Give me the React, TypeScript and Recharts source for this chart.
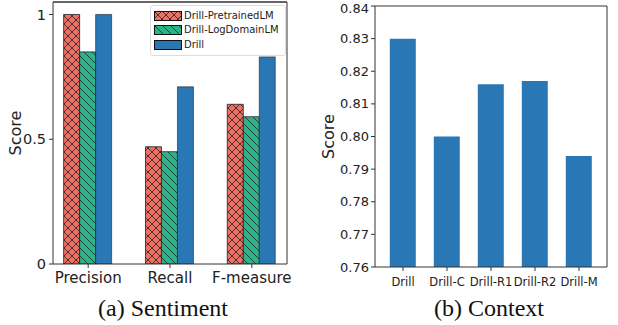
import React from 'react';
import { BarChart, Bar, XAxis, YAxis, Label, Legend, CartesianGrid, ReferenceLine } from 'recharts';

const categories = ['Precision', 'Recall', 'F-measure'];
const pretrainedLM = [1.0, 0.47, 0.64];
const logDomainLM = [0.85, 0.45, 0.59];
const drillScores = [1.0, 0.71, 0.83];
const sentimentTicks = [0, 0.5, 1];
const sentimentMax = 1.05;

const contextLabels = ['Drill', 'Drill-C', 'Drill-R1', 'Drill-R2', 'Drill-M'];
const contextScores = [0.83, 0.8, 0.816, 0.817, 0.794];
const contextTicks = [0.76, 0.77, 0.78, 0.79, 0.8, 0.81, 0.82, 0.83, 0.84];

const seriesNames = ['Drill-PretrainedLM', 'Drill-LogDomainLM', 'Drill'];

const RED = '#EE6F63';
const GREEN = '#2DB38A';
const BLUE = '#2A77B6';
const AXIS = '#333';
const FONT = '"DejaVu Sans", sans-serif';

const sentimentData = categories.map((c, i) => ({
  x: i,
  name: c,
  pre: pretrainedLM[i],
  log: logDomainLM[i],
  drill: drillScores[i],
}));

const contextData = contextLabels.map((c, i) => ({ name: c, score: contextScores[i] }));

const legendFills = ['url(#hatchCross)', 'url(#hatchDiag)', BLUE];

const LegendBox = () => (
  <div
    style={{
      border: '1px solid #ddd',
      borderRadius: 3,
      background: 'rgba(255,255,255,0.85)',
      padding: '3px 6px 3px 3px',
      fontFamily: FONT,
      fontSize: 10,
      color: '#222',
      lineHeight: '14.3px',
      whiteSpace: 'nowrap',
    }}
  >
    {seriesNames.map((n, i) => (
      <div key={n} style={{ display: 'flex', alignItems: 'center' }}>
        <svg width={28} height={10} style={{ marginRight: 2 }}>
          <rect x={0.5} y={0.5} width={27} height={9} fill={legendFills[i]} stroke="#111" strokeWidth={1} />
        </svg>
        <span>{n}</span>
      </div>
    ))}
  </div>
);

const frameH = ({ offset }: any) => [offset.top];
const frameV = ({ offset }: any) => [offset.left + offset.width];

export default function App() {
  return (
    <div style={{ position: 'absolute', left: 0, top: 0, width: 618, height: 325, background: '#fff' }}>
      <svg width={0} height={0} style={{ position: 'absolute' }}>
        <defs>
          <pattern id="hatchCross" patternUnits="userSpaceOnUse" width={8} height={8}>
            <rect width={8} height={8} fill={RED} />
            <path d="M0,0 L8,8 M0,8 L8,0 M-1,7 L1,9 M7,-1 L9,1 M-1,1 L1,-1 M7,9 L9,7" stroke="#222" strokeWidth={0.8} />
          </pattern>
          <pattern id="hatchDiag" patternUnits="userSpaceOnUse" width={8} height={8}>
            <rect width={8} height={8} fill={GREEN} />
            <path d="M0,0 L8,8 M-1,7 L1,9 M7,-1 L9,1" stroke="#222" strokeWidth={0.8} />
          </pattern>
        </defs>
      </svg>

      <div style={{ position: 'absolute', left: 0, top: 0 }}>
        <BarChart
          width={310}
          height={300}
          data={sentimentData}
          margin={{ top: 2, right: 23, bottom: 0, left: 0 }}
          barCategoryGap="20%"
          barGap={0}
        >
          <CartesianGrid
            stroke={AXIS}
            strokeOpacity={1}
            horizontalCoordinatesGenerator={frameH}
            verticalCoordinatesGenerator={frameV}
          />
          <XAxis
            dataKey="x"
            type="number"
            domain={[-0.43, 2.43]}
            ticks={[0, 1, 2]}
            tickFormatter={(v: number) => categories[v]}
            height={36}
            tickSize={4}
            tickMargin={4}
            stroke={AXIS}
            tick={{ fill: '#222', fontSize: 15, fontFamily: FONT }}
            allowDataOverflow
          />
          <YAxis
            type="number"
            domain={[0, sentimentMax]}
            ticks={sentimentTicks}
            width={53}
            tickSize={4}
            tickMargin={3}
            stroke={AXIS}
            tick={{ fill: '#222', fontSize: 14.5, fontFamily: FONT }}
            allowDataOverflow
          >
            <Label value="Score" angle={-90} position="center" dx={-11.5} style={{ fontSize: 16, fontFamily: FONT, fill: '#222' }} />
          </YAxis>
          <ReferenceLine y={sentimentMax} stroke={AXIS} strokeWidth={1} ifOverflow="visible" />
          <Legend
            layout="vertical"
            align="center"
            verticalAlign="middle"
            content={<LegendBox />}
            wrapperStyle={{ position: 'absolute', left: 150, top: 5, width: 'auto', height: 'auto' }}
          />
          <Bar dataKey="pre" name={seriesNames[0]} fill="url(#hatchCross)" stroke="#222" strokeWidth={0.8} isAnimationActive={false} />
          <Bar dataKey="log" name={seriesNames[1]} fill="url(#hatchDiag)" stroke="#222" strokeWidth={0.8} isAnimationActive={false} />
          <Bar dataKey="drill" name={seriesNames[2]} fill={BLUE} stroke="#222" strokeWidth={0.6} isAnimationActive={false} />
        </BarChart>
      </div>

      <div style={{ position: 'absolute', left: 310, top: 0 }}>
        <BarChart
          width={308}
          height={300}
          data={contextData}
          margin={{ top: 6, right: 11, bottom: 0, left: 0 }}
          barCategoryGap="20%"
        >
          <CartesianGrid
            stroke={AXIS}
            strokeOpacity={1}
            horizontalCoordinatesGenerator={frameH}
            verticalCoordinatesGenerator={frameV}
          />
          <XAxis
            dataKey="name"
            padding={{ left: 6, right: 6 }}
            height={33}
            tickSize={4}
            tickMargin={7}
            stroke={AXIS}
            interval={0}
            tick={{ fill: '#222', fontSize: 11.5, fontFamily: FONT }}
          />
          <YAxis
            type="number"
            domain={[0.76, 0.84]}
            ticks={contextTicks}
            tickFormatter={(v: number) => v.toFixed(2)}
            width={65}
            tickSize={4}
            tickMargin={2}
            stroke={AXIS}
            tick={{ fill: '#222', fontSize: 13, fontFamily: FONT }}
            allowDataOverflow
          >
            <Label value="Score" angle={-90} position="center" dx={-14.5} style={{ fontSize: 16, fontFamily: FONT, fill: '#222' }} />
          </YAxis>
          <Bar dataKey="score" fill={BLUE} isAnimationActive={false} />
        </BarChart>
      </div>

      <div
        style={{
          position: 'absolute',
          left: 0,
          width: 326,
          top: 294,
          textAlign: 'center',
          fontFamily: '"Liberation Serif", "Times New Roman", serif',
          fontSize: 24,
          lineHeight: '28px',
          color: '#111',
        }}
      >
        (a) Sentiment
      </div>
      <div
        style={{
          position: 'absolute',
          left: 310,
          width: 358,
          top: 294,
          textAlign: 'center',
          fontFamily: '"Liberation Serif", "Times New Roman", serif',
          fontSize: 24,
          lineHeight: '28px',
          color: '#111',
        }}
      >
        (b) Context
      </div>
    </div>
  );
}
